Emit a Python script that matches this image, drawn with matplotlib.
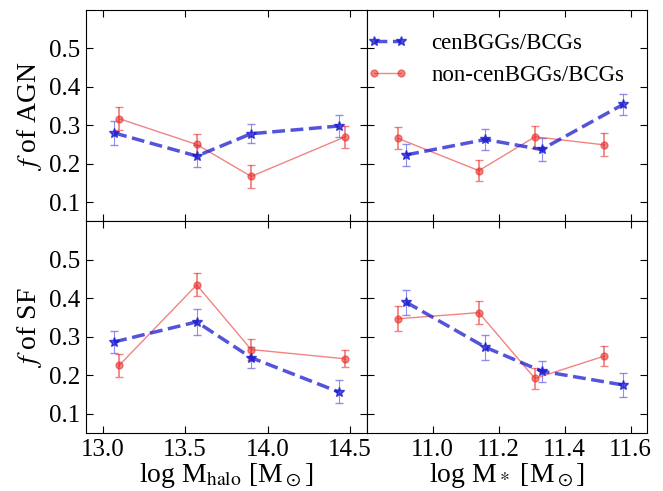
import numpy as np
from matplotlib import pyplot as plt

plt.rcParams['font.family'] = 'Liberation Serif'
plt.rcParams['mathtext.fontset'] = 'stix'

# halo mass bins
halo_cen_x = [13.07, 13.57, 13.90, 14.43]
halo_non_x = [13.10, 13.57, 13.90, 14.47]
# stellar mass bins
star_cen_x = [10.92, 11.16, 11.33, 11.577]
star_non_x = [10.895, 11.14, 11.31, 11.52]

# AGN fractions
agn_halo_cen = [0.280, 0.220, 0.278, 0.298]
agn_halo_cen_err = [0.032, 0.028, 0.025, 0.028]
agn_halo_non = [0.317, 0.250, 0.167, 0.270]
agn_halo_non_err = [0.030, 0.028, 0.030, 0.029]
agn_star_cen = [0.223, 0.263, 0.237, 0.354]
agn_star_cen_err = [0.028, 0.027, 0.030, 0.028]
agn_star_non = [0.266, 0.182, 0.270, 0.249]
agn_star_non_err = [0.029, 0.028, 0.029, 0.030]

# SF fractions
sf_halo_cen = [0.287, 0.339, 0.246, 0.157]
sf_halo_cen_err = [0.028, 0.033, 0.028, 0.030]
sf_halo_non = [0.226, 0.435, 0.267, 0.243]
sf_halo_non_err = [0.030, 0.030, 0.028, 0.022]
sf_star_cen = [0.390, 0.273, 0.211, 0.175]
sf_star_cen_err = [0.033, 0.032, 0.027, 0.030]
sf_star_non = [0.347, 0.363, 0.192, 0.250]
sf_star_non_err = [0.032, 0.030, 0.027, 0.025]


fig, axes = plt.subplots(2, 2, sharex='col', sharey=True)
fig.set_size_inches(6.63, 4.91)
fig.subplots_adjust(left=0.13, right=0.976, top=0.98, bottom=0.118, hspace=0, wspace=0)

panels = [
    (axes[0, 0], halo_cen_x, agn_halo_cen, agn_halo_cen_err, halo_non_x, agn_halo_non, agn_halo_non_err),
    (axes[0, 1], star_cen_x, agn_star_cen, agn_star_cen_err, star_non_x, agn_star_non, agn_star_non_err),
    (axes[1, 0], halo_cen_x, sf_halo_cen, sf_halo_cen_err, halo_non_x, sf_halo_non, sf_halo_non_err),
    (axes[1, 1], star_cen_x, sf_star_cen, sf_star_cen_err, star_non_x, sf_star_non, sf_star_non_err),
]

handles = {}
for ax, xc, yc, ec, xn, yn, en in panels:
    rn = ax.errorbar(xn, yn, yerr=en, color='#e8332f', marker='o', ms=5, lw=1.0,
                     alpha=0.6, capsize=3, elinewidth=1.3)
    rc = ax.errorbar(xc, yc, yerr=ec, color='#1a1ad0', marker='*', ms=7, lw=2.5, ls='--',
                     alpha=0.75, capsize=3, elinewidth=0.8, ecolor='#6a6ae8')
    handles['cen'] = rc[0]
    handles['non'] = rn[0]
    ax.tick_params(direction='in', top=True, right=True, labelsize=18, length=5, pad=4)

axes[0, 0].set_ylim(0.05, 0.6)
axes[0, 0].set_yticks([0.1, 0.2, 0.3, 0.4, 0.5])
axes[1, 0].set_xlim(12.9, 14.6)
axes[1, 0].set_xticks([13.0, 13.5, 14.0, 14.5])
axes[1, 1].set_xlim(10.8, 11.65)
axes[1, 1].set_xticks([11.0, 11.2, 11.4, 11.6])

axes[0, 0].set_ylabel('$f$ of AGN', fontsize=20, labelpad=4)
axes[1, 0].set_ylabel('$f$ of SF', fontsize=20, labelpad=4)
axes[1, 0].set_xlabel(r'log M$_{\rm halo}$ [M$_\odot$]', fontsize=20, labelpad=0)
axes[1, 1].set_xlabel(r'log M$_*$ [M$_\odot$]', fontsize=20, labelpad=0)

axes[0, 1].legend([handles['cen'], handles['non']], ['cenBGGs/BCGs', 'non-cenBGGs/BCGs'],
                  loc='upper right', frameon=False, numpoints=2, fontsize=16.5,
                  handlelength=1.8, handletextpad=1.0, borderaxespad=0.6, labelspacing=0.5)

plt.savefig('out.png', dpi=100)
